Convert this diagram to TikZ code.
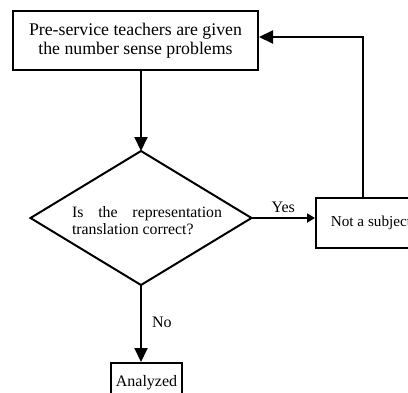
\documentclass[tikz,border=0pt]{standalone}
\usepackage{fontspec}
\setmainfont{Liberation Serif}
\usetikzlibrary{arrows.meta,shapes.geometric}
\begin{document}
\begin{tikzpicture}[x=1pt,y=-1pt,
  box/.style={draw,line width=2pt,inner sep=0pt,align=center},
  flow/.style={draw,line width=2pt,-{Triangle[length=14pt,width=13pt]}},
  smallflow/.style={draw,line width=2pt,-{Triangle[length=8pt,width=9pt]}},
  lbl/.style={font=\fontsize{16}{18}\selectfont,inner sep=0pt}]
\useasboundingbox (0,0) rectangle (408,392);
\node[box,minimum width=245,minimum height=59,font=\fontsize{17.8}{19.5}\selectfont] (start) at (135.5,40.5)
  {Pre-service teachers are given\\the number sense problems};
\node[draw,line width=2pt,shape=diamond,inner sep=0pt,outer sep=0pt,
  minimum width=221,minimum height=134] (dec) at (141,218) {};
\node[inner sep=0pt,text width=150,align=justify,font=\fontsize{15.8}{17}\selectfont] (dectext) at (147,221)
  {Is the representation translation correct?};
\node[box,minimum width=110,minimum height=50,anchor=west,font=\fontsize{15.2}{18}\selectfont] (nots) at (315,223)
  {\hspace*{6pt}Not a subject\hspace*{6pt}};
\node[box,minimum width=71,minimum height=40,anchor=north,font=\fontsize{16}{18}\selectfont] (anal) at (146.5,362)
  {\raisebox{-8pt}{Analyzed}};
\coordinate (corner) at (363,37);
\path[flow] (start.south -| dec.north) -- (dec.north);
\path[smallflow] (dec.east) -- (nots.west |- dec.east) node[lbl,midway,above=4pt] (yes) {Yes};
\path[flow] (nots.north -| corner) -- (corner) -- (start.east |- corner);
\path[flow] (dec.south) -- (anal.north -| dec.south) node[lbl,pos=0.48,right=10pt] (no) {No};
\end{tikzpicture}
\end{document}
